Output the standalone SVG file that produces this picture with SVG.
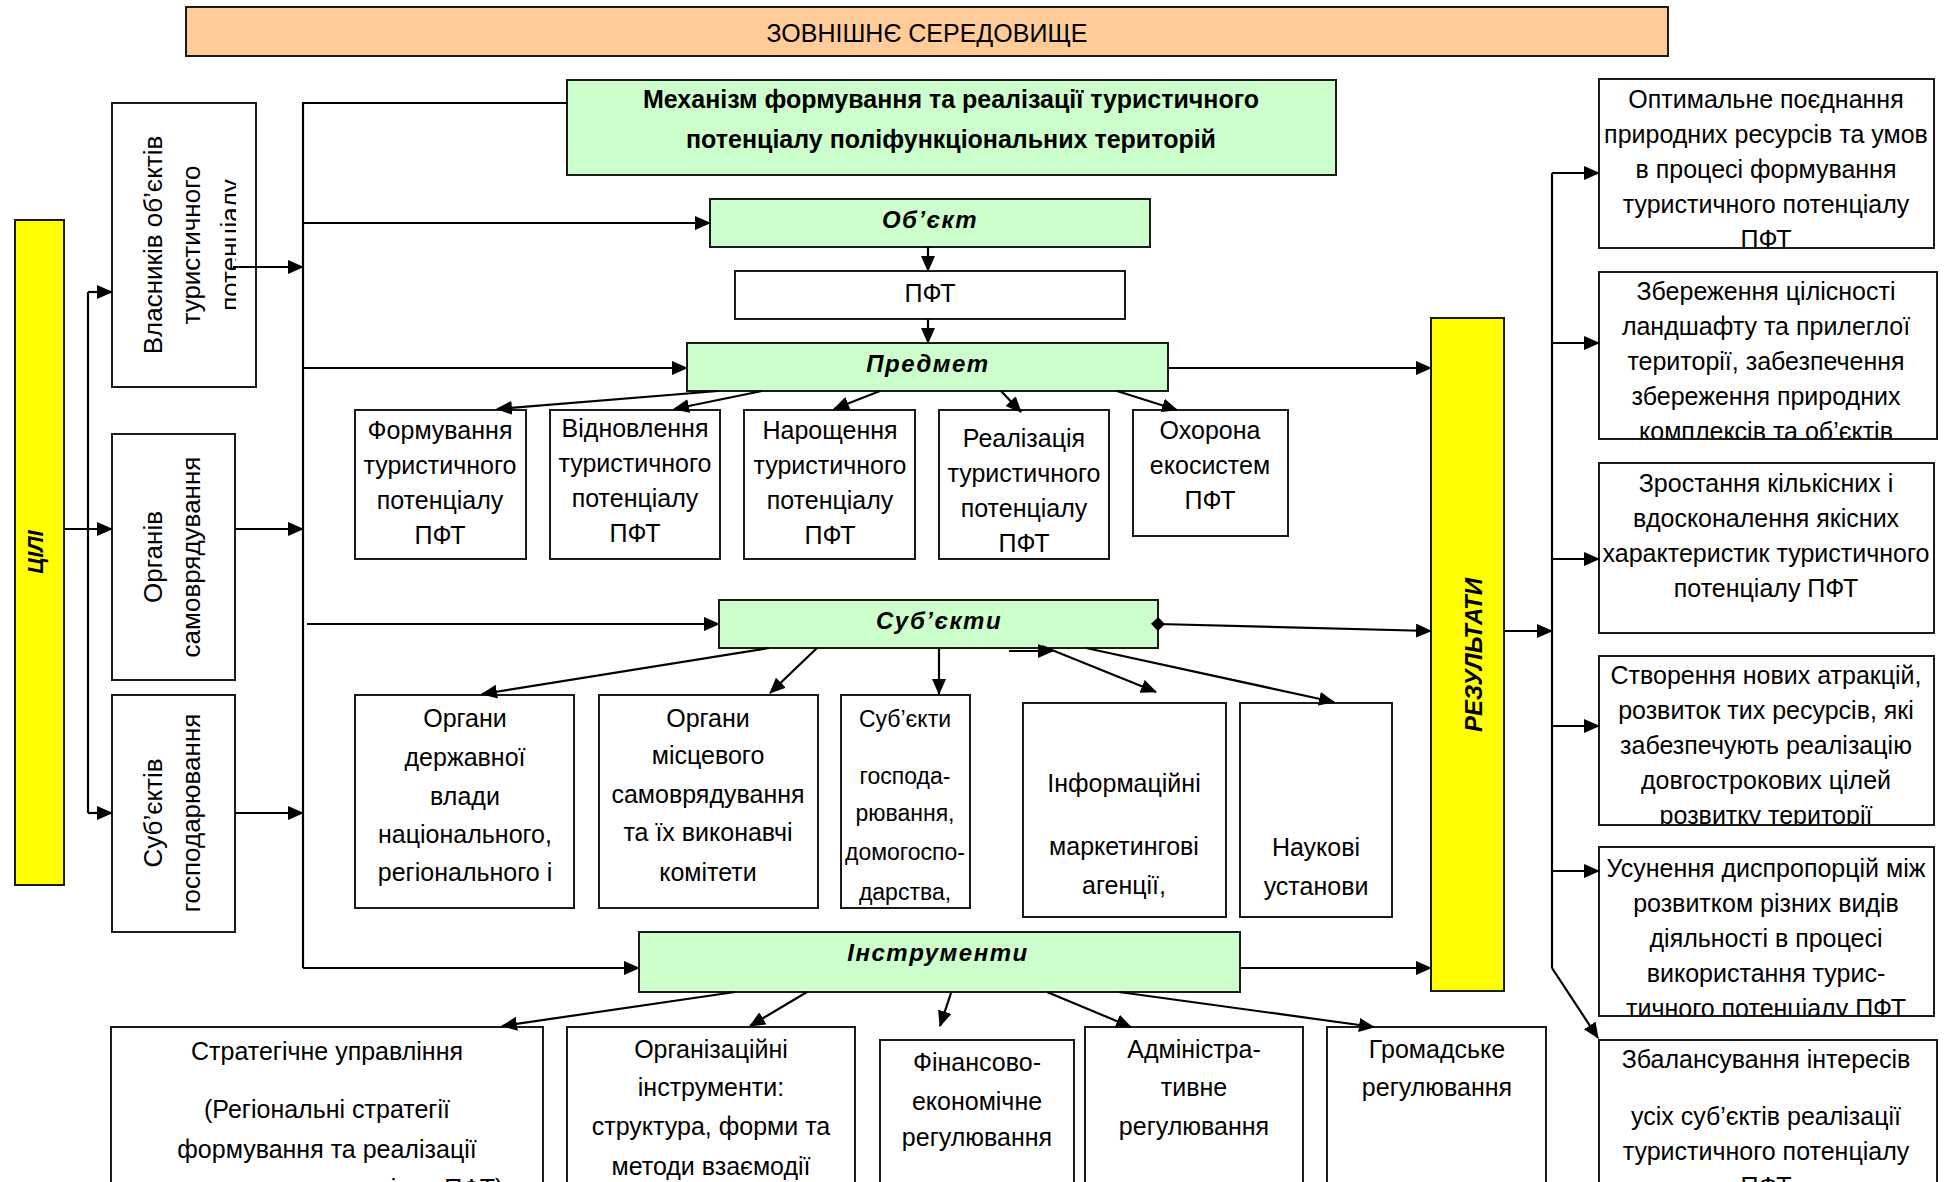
<svg xmlns="http://www.w3.org/2000/svg" width="1948" height="1182" viewBox="0 0 1948 1182">
<defs>
<style>
.box{fill:#fff;stroke:#1a1a1a;stroke-width:2}
.green{fill:#CCFFCC;stroke:#1a1a1a;stroke-width:2}
.yellow{fill:#FFFF00;stroke:#1a1a1a;stroke-width:2}
.orange{fill:#FFCC99;stroke:#1a1a1a;stroke-width:2}
text{font-family:"Liberation Sans",Arial,sans-serif;fill:#000}
.t{font-size:25px;text-anchor:middle}
.ts{font-size:23px;text-anchor:middle}
.tl{font-size:26px;text-anchor:middle}
.b{font-size:25px;font-weight:bold;text-anchor:middle}
.bi{font-size:24px;font-weight:bold;font-style:italic;text-anchor:middle;letter-spacing:1.5px}
.c{stroke:#000;stroke-width:2.2;fill:none}
.a{marker-end:url(#arr)}
</style>
<marker id="arr" markerUnits="userSpaceOnUse" markerWidth="16" markerHeight="14" refX="15" refY="7" orient="auto">
<path d="M0,0 L16,7 L0,14 z" fill="#000"/>
</marker>
<marker id="dia" markerUnits="userSpaceOnUse" markerWidth="14" markerHeight="14" refX="7" refY="7" orient="auto">
<path d="M0,7 L7,0 L14,7 L7,14 z" fill="#000"/>
</marker>
<clipPath id="cVl"><rect x="112" y="103" width="124" height="284"/></clipPath>
<clipPath id="cR1"><rect x="1599" y="79" width="335" height="168"/></clipPath>
<clipPath id="cR2"><rect x="1599" y="272" width="338" height="166"/></clipPath>
<clipPath id="cR4"><rect x="1599" y="656" width="335" height="168"/></clipPath>
<clipPath id="cR5"><rect x="1599" y="847" width="335" height="168"/></clipPath>
<clipPath id="cReal"><rect x="939" y="410" width="170" height="148"/></clipPath>
<clipPath id="cSg"><rect x="841" y="695" width="129" height="212"/></clipPath>
</defs>
<rect width="1948" height="1182" fill="#fff"/>

<g id="env">
<rect class="orange" x="186" y="7" width="1482" height="49"/>
<text class="t" x="927" y="42">ЗОВНІШНЄ СЕРЕДОВИЩЕ</text>
</g>

<g id="goals">
<rect class="yellow" x="15" y="220" width="49" height="665"/>
<text font-size="22" font-weight="bold" font-style="italic" text-anchor="middle" transform="translate(43,552) rotate(-90)">ЦІЛІ</text>
</g>

<g id="owners">
<rect class="box" x="112" y="103" width="144" height="284"/>
<g clip-path="url(#cVl)">
<text class="tl" transform="translate(162,245) rotate(-90)">Власників об’єктів</text>
<text class="tl" transform="translate(200,245) rotate(-90)">туристичного</text>
<text class="tl" transform="translate(239,245) rotate(-90)">потенціалу</text>
</g>
</g>

<g id="selfgov">
<rect class="box" x="112" y="434" width="123" height="246"/>
<text class="tl" transform="translate(162,557) rotate(-90)">Органів</text>
<text class="tl" transform="translate(200,557) rotate(-90)">самоврядування</text>
</g>

<g id="business">
<rect class="box" x="112" y="695" width="123" height="237"/>
<text class="tl" transform="translate(162,813) rotate(-90)">Суб’єктів</text>
<text class="tl" transform="translate(200,813) rotate(-90)">господарювання</text>
</g>

<g id="mechanism">
<rect class="green" x="567" y="80" width="769" height="95"/>
<text class="b" x="951" y="108">Механізм формування та реалізації туристичного</text>
<text class="b" x="951" y="148">потенціалу поліфункціональних територій</text>
</g>

<g id="object">
<rect class="green" x="710" y="199" width="440" height="48"/>
<text class="bi" x="930" y="228">Об’єкт</text>
</g>

<g id="pft">
<rect class="box" x="735" y="271" width="390" height="48"/>
<text class="t" x="930" y="302">ПФТ</text>
</g>

<g id="subject">
<rect class="green" x="687" y="343" width="481" height="48"/>
<text class="bi" x="928" y="372">Предмет</text>
</g>

<g id="s1">
<rect class="box" x="355" y="410" width="171" height="149"/>
<text class="t" x="440" y="439">Формування</text>
<text class="t" x="440" y="474">туристичного</text>
<text class="t" x="440" y="509">потенціалу</text>
<text class="t" x="440" y="544">ПФТ</text>
</g>
<g id="s2">
<rect class="box" x="550" y="410" width="170" height="149"/>
<text class="t" x="635" y="437">Відновлення</text>
<text class="t" x="635" y="472">туристичного</text>
<text class="t" x="635" y="507">потенціалу</text>
<text class="t" x="635" y="542">ПФТ</text>
</g>
<g id="s3">
<rect class="box" x="744" y="410" width="171" height="149"/>
<text class="t" x="830" y="439">Нарощення</text>
<text class="t" x="830" y="474">туристичного</text>
<text class="t" x="830" y="509">потенціалу</text>
<text class="t" x="830" y="544">ПФТ</text>
</g>
<g id="s4">
<rect class="box" x="939" y="410" width="170" height="149"/>
<g clip-path="url(#cReal)">
<text class="t" x="1024" y="447">Реалізація</text>
<text class="t" x="1024" y="482">туристичного</text>
<text class="t" x="1024" y="517">потенціалу</text>
<text class="t" x="1024" y="552">ПФТ</text>
</g>
</g>
<g id="s5">
<rect class="box" x="1133" y="410" width="155" height="126"/>
<text class="t" x="1210" y="439">Охорона</text>
<text class="t" x="1210" y="474">екосистем</text>
<text class="t" x="1210" y="509">ПФТ</text>
</g>

<g id="subjects">
<rect class="green" x="719" y="600" width="439" height="48"/>
<text class="bi" x="939" y="629">Суб’єкти</text>
</g>

<g id="a1">
<rect class="box" x="355" y="695" width="219" height="213"/>
<text class="t" x="465" y="727">Органи</text>
<text class="t" x="465" y="766">державної</text>
<text class="t" x="465" y="805">влади</text>
<text class="t" x="465" y="843">національного,</text>
<text class="t" x="465" y="881">регіонального і</text>
</g>
<g id="a2">
<rect class="box" x="599" y="695" width="219" height="213"/>
<text class="t" x="708" y="727">Органи</text>
<text class="t" x="708" y="764">місцевого</text>
<text class="t" x="708" y="803">самоврядування</text>
<text class="t" x="708" y="841">та їх виконавчі</text>
<text class="t" x="708" y="881">комітети</text>
</g>
<g id="a3">
<rect class="box" x="841" y="695" width="129" height="213"/>
<g clip-path="url(#cSg)">
<text class="ts" x="905" y="727">Суб’єкти</text>
<text class="ts" x="905" y="784">господа-</text>
<text class="ts" x="905" y="821">рювання,</text>
<text class="ts" x="905" y="860">домогоспо-</text>
<text class="ts" x="905" y="900">дарства,</text>
</g>
</g>
<g id="a4">
<rect class="box" x="1023" y="703" width="203" height="214"/>
<text class="t" x="1124" y="792">Інформаційні</text>
<text class="t" x="1124" y="855">маркетингові</text>
<text class="t" x="1124" y="894">агенції,</text>
</g>
<g id="a5">
<rect class="box" x="1240" y="703" width="152" height="214"/>
<text class="t" x="1316" y="856">Наукові</text>
<text class="t" x="1316" y="895">установи</text>
</g>

<g id="tools">
<rect class="green" x="639" y="932" width="601" height="60"/>
<text class="bi" x="938" y="961">Інструменти</text>
</g>

<g id="i1">
<rect class="box" x="111" y="1027" width="432" height="200"/>
<text class="t" x="327" y="1060">Стратегічне управління</text>
<text class="t" x="327" y="1118">(Регіональні стратегії</text>
<text class="t" x="327" y="1158">формування та реалізації</text>
<text class="t" x="327" y="1197">туристичного потенціалу ПФТ)</text>
</g>
<g id="i2">
<rect class="box" x="567" y="1027" width="288" height="200"/>
<text class="t" x="711" y="1058">Організаційні</text>
<text class="t" x="711" y="1096">інструменти:</text>
<text class="t" x="711" y="1135">структура, форми та</text>
<text class="t" x="711" y="1175">методи взаємодії</text>
</g>
<g id="i3">
<rect class="box" x="880" y="1040" width="194" height="200"/>
<text class="t" x="977" y="1071">Фінансово-</text>
<text class="t" x="977" y="1110">економічне</text>
<text class="t" x="977" y="1146">регулювання</text>
</g>
<g id="i4">
<rect class="box" x="1085" y="1027" width="218" height="200"/>
<text class="t" x="1194" y="1058">Адміністра-</text>
<text class="t" x="1194" y="1096">тивне</text>
<text class="t" x="1194" y="1135">регулювання</text>
</g>
<g id="i5">
<rect class="box" x="1327" y="1027" width="219" height="200"/>
<text class="t" x="1437" y="1058">Громадське</text>
<text class="t" x="1437" y="1096">регулювання</text>
</g>

<g id="results">
<rect class="yellow" x="1431" y="318" width="73" height="673"/>
<text font-size="24" font-weight="bold" font-style="italic" text-anchor="middle" transform="translate(1482,655) rotate(-90)">РЕЗУЛЬТАТИ</text>
</g>

<g id="r1">
<rect class="box" x="1599" y="79" width="335" height="169"/>
<g clip-path="url(#cR1)">
<text class="t" x="1766" y="108">Оптимальне поєднання</text>
<text class="t" x="1766" y="143">природних ресурсів та умов</text>
<text class="t" x="1766" y="178">в процесі формування</text>
<text class="t" x="1766" y="213">туристичного потенціалу</text>
<text class="t" x="1766" y="248">ПФТ</text>
</g>
</g>
<g id="r2">
<rect class="box" x="1599" y="272" width="338" height="167"/>
<g clip-path="url(#cR2)">
<text class="t" x="1766" y="300">Збереження цілісності</text>
<text class="t" x="1766" y="335">ландшафту та прилеглої</text>
<text class="t" x="1766" y="370">території, забезпечення</text>
<text class="t" x="1766" y="405">збереження природних</text>
<text class="t" x="1766" y="440">комплексів та об’єктів</text>
</g>
</g>
<g id="r3">
<rect class="box" x="1599" y="463" width="335" height="170"/>
<text class="t" x="1766" y="492">Зростання кількісних і</text>
<text class="t" x="1766" y="527">вдосконалення якісних</text>
<text class="t" x="1766" y="562">характеристик туристичного</text>
<text class="t" x="1766" y="597">потенціалу ПФТ</text>
</g>
<g id="r4">
<rect class="box" x="1599" y="656" width="335" height="169"/>
<g clip-path="url(#cR4)">
<text class="t" x="1766" y="684">Створення нових атракцій,</text>
<text class="t" x="1766" y="719">розвиток тих ресурсів, які</text>
<text class="t" x="1766" y="754">забезпечують реалізацію</text>
<text class="t" x="1766" y="789">довгострокових цілей</text>
<text class="t" x="1766" y="824">розвитку території</text>
</g>
</g>
<g id="r5">
<rect class="box" x="1599" y="847" width="335" height="169"/>
<g clip-path="url(#cR5)">
<text class="t" x="1766" y="877">Усунення диспропорцій між</text>
<text class="t" x="1766" y="912">розвитком різних видів</text>
<text class="t" x="1766" y="947">діяльності в процесі</text>
<text class="t" x="1766" y="982">використання  турис-</text>
<text class="t" x="1766" y="1017">тичного потенціалу ПФТ</text>
</g>
</g>
<g id="r6">
<rect class="box" x="1599" y="1040" width="338" height="200"/>
<text class="t" x="1766" y="1068">Збалансування інтересів</text>
<text class="t" x="1766" y="1125">усіх суб’єктів реалізації</text>
<text class="t" x="1766" y="1160">туристичного потенціалу</text>
<text class="t" x="1766" y="1195">ПФТ</text>
</g>

<g id="connectors">
<path class="c" d="M88,292 V813"/>
<path class="c a" d="M88,292 H112"/>
<path class="c a" d="M64,529 H112"/>
<path class="c a" d="M88,813 H112"/>
<path class="c a" d="M233,267 H303"/>
<path class="c a" d="M235,529 H303"/>
<path class="c a" d="M235,813 H303"/>
<path class="c" d="M567,103 H303 V968"/>
<path class="c a" d="M303,223 H710"/>
<path class="c a" d="M303,368 H687"/>
<path class="c a" d="M307,624 H719"/>
<path class="c a" d="M303,968 H639"/>
<path class="c a" d="M928,247 V271"/>
<path class="c a" d="M928,319 V343"/>
<path class="c a" d="M718,391 L497,409"/>
<path class="c a" d="M762,391 L674,409"/>
<path class="c a" d="M880,391 L834,409"/>
<path class="c a" d="M1001,391 L1021,412"/>
<path class="c a" d="M1117,391 L1177,410"/>
<path class="c a" d="M769,648 L482,694"/>
<path class="c a" d="M817,648 L770,693"/>
<path class="c a" d="M939,648 V694"/>
<path class="c a" d="M1009,651 H1053"/>
<path class="c a" d="M1042,646 L1156,692"/>
<path class="c a" d="M1086,648 L1334,702"/>
<path class="c a" d="M735,992 L502,1026"/>
<path class="c a" d="M807,992 L750,1026"/>
<path class="c a" d="M951,993 L940,1026"/>
<path class="c a" d="M1047,992 L1131,1027"/>
<path class="c a" d="M1119,992 L1374,1027"/>
<path class="c a" d="M1168,368 H1431"/>
<path class="c a" d="M1158,624 L1431,631" marker-start="url(#dia)"/>
<path class="c a" d="M1240,968 H1431"/>
<path class="c a" d="M1504,631 H1552"/>
<path class="c" d="M1552,173 V968"/>
<path class="c a" d="M1552,173 H1599"/>
<path class="c a" d="M1552,343 H1599"/>
<path class="c a" d="M1552,559 H1599"/>
<path class="c a" d="M1552,726 H1599"/>
<path class="c a" d="M1552,871 H1599"/>
<path class="c a" d="M1552,968 L1598,1038"/>
</g>
</svg>
